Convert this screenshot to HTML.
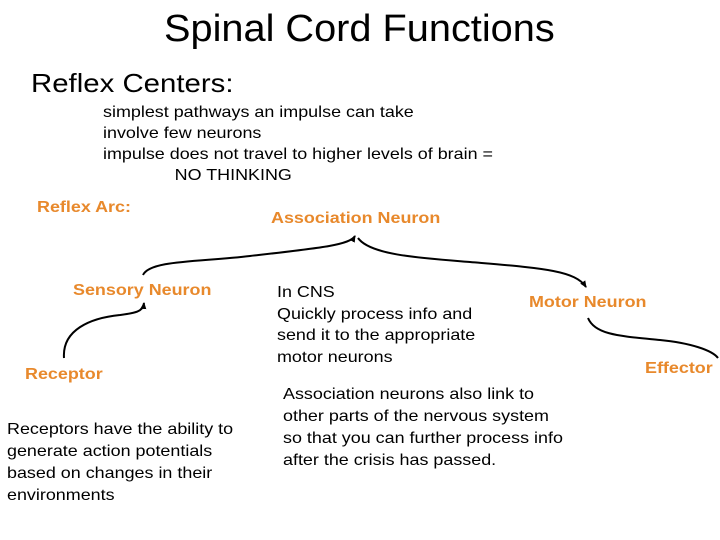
<!DOCTYPE html>
<html><head><style>
body{margin:0;width:720px;height:540px;background:#fff;position:relative;font-family:"Liberation Sans",sans-serif;overflow:hidden}
.t,.o{position:absolute;white-space:nowrap;transform-origin:0 0;transform:scaleX(1.12)}
.t{color:#000}
.o{color:#E8892C;font-weight:bold;font-size:16px}
</style></head><body>
<div class="t" style="left:164px;top:8px;font-size:38px;transform:scaleX(1.045)">Spinal Cord Functions</div>
<div class="t" style="left:31px;top:68px;font-size:26px;transform:scaleX(1.13)">Reflex Centers:</div>
<div class="t" style="left:103px;top:102px;font-size:16px;line-height:21px">simplest pathways an impulse can take<br>involve few neurons<br>impulse does not travel to higher levels of brain =<br><span style="padding-left:64px">NO THINKING</span></div>
<div class="o" style="left:37px;top:199px">Reflex Arc:</div>
<div class="o" style="left:271px;top:210px">Association Neuron</div>
<div class="o" style="left:73px;top:282px">Sensory Neuron</div>
<div class="o" style="left:529px;top:294px">Motor Neuron</div>
<div class="o" style="left:25px;top:366px">Receptor</div>
<div class="o" style="left:645px;top:360px">Effector</div>
<div class="t" style="left:277px;top:282px;font-size:16px;line-height:21.5px">In CNS<br>Quickly process info and<br>send it to the appropriate<br>motor neurons</div>
<div class="t" style="left:283px;top:384px;font-size:16px;line-height:22px">Association neurons also link to<br>other parts of the nervous system<br>so that you can further process info<br>after the crisis has passed.</div>
<div class="t" style="left:7px;top:419px;font-size:16px;line-height:22px">Receptors have the ability to<br>generate action potentials<br>based on changes in their<br>environments</div>
<svg width="720" height="540" style="position:absolute;left:0;top:0">
<defs><marker id="a" markerUnits="userSpaceOnUse" markerWidth="8" markerHeight="8" refX="6" refY="4" orient="auto"><path d="M0,1L7,4L0,7z" fill="#000"/></marker></defs>
<g fill="none" stroke="#000" stroke-width="2">
<path d="M64,358 C62,330 90,318 120,315 C135,313 143,312 144,303" marker-end="url(#a)"/>
<path d="M143,275 C150,260 200,262 250,256 C320,248 350,245 355,236" marker-end="url(#a)"/>
<path d="M358,238 C370,255 420,258 470,262 C540,268 575,270 586,287" marker-end="url(#a)"/>
<path d="M588,318 C595,335 620,336 660,340 C690,343 712,350 718,358"/>
</g>
</svg>
</body></html>
